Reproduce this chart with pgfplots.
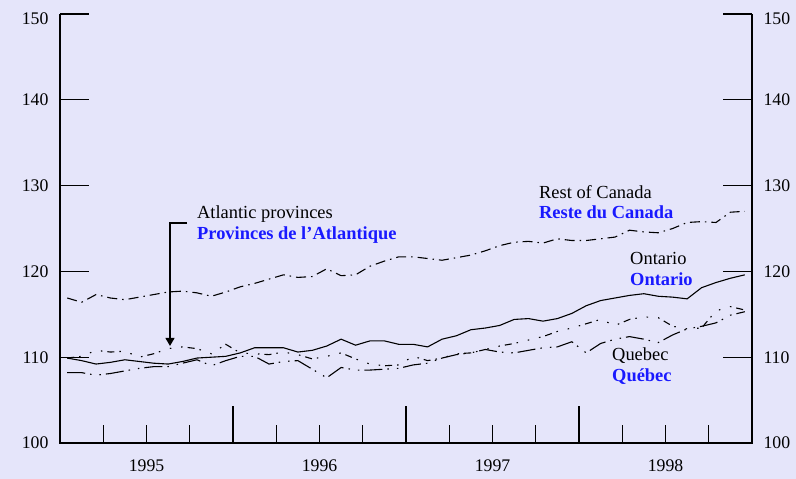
\documentclass[border=0pt]{standalone}
\usepackage{fontspec}
\setmainfont{Liberation Serif}
\usepackage{pgfplots}
\usepackage{pgfplotstable}
\pgfplotsset{compat=1.18}
\usetikzlibrary{arrows.meta}
\definecolor{bg}{RGB}{229,229,250}
\definecolor{lblue}{RGB}{25,25,255}
\pgfplotstableread{
m roc ont atl que
0.5 116.9 109.9 109.9 108.2
1.5 116.4 109.6 110.1 108.2
2.5 117.3 109.2 110.8 107.9
3.5 116.9 109.4 110.6 108.1
4.5 116.7 109.7 110.7 108.4
5.5 117.0 109.5 110.0 108.7
6.5 117.3 109.3 110.4 108.9
7.5 117.6 109.2 111.0 108.9
8.5 117.7 109.5 111.2 109.3
9.5 117.5 109.9 111.0 109.7
10.5 117.1 110.0 110.4 109.0
11.5 117.6 110.1 111.5 109.6
12.5 118.2 110.5 110.5 110.1
13.5 118.6 111.1 110.4 110.1
14.5 119.1 111.1 110.3 109.2
15.5 119.6 111.1 110.6 109.5
16.5 119.3 110.6 110.3 109.6
17.5 119.4 110.8 109.8 108.6
18.5 120.3 111.3 110.1 107.6
19.5 119.5 112.1 110.5 108.8
20.5 119.6 111.4 109.8 108.5
21.5 120.6 111.9 109.2 108.5
22.5 121.2 111.9 109.0 108.6
23.5 121.7 111.5 109.1 108.7
24.5 121.7 111.5 110.1 109.1
25.5 121.5 111.2 109.6 109.3
26.5 121.3 112.1 109.9 109.9
27.5 121.6 112.5 110.4 110.3
28.5 121.9 113.2 110.5 110.5
29.5 122.4 113.4 110.9 110.9
30.5 123.0 113.7 111.3 110.6
31.5 123.4 114.4 111.6 110.5
32.5 123.5 114.5 112.0 110.8
33.5 123.3 114.2 112.4 111.1
34.5 123.8 114.5 113.0 111.2
35.5 123.6 115.1 113.4 111.8
36.5 123.6 116.0 113.9 110.5
37.5 123.8 116.6 114.4 111.6
38.5 124.0 116.9 113.7 112.1
39.5 124.8 117.2 114.4 112.4
40.5 124.6 117.4 114.7 112.1
41.5 124.5 117.1 114.6 111.7
42.5 125.0 117.0 113.6 112.6
43.5 125.7 116.8 113.3 113.3
44.5 125.8 118.1 113.4 113.6
45.5 125.7 118.7 115.4 114.0
46.5 126.9 119.2 115.9 114.9
47.5 127.0 119.6 115.5 115.3
}\data
\newcommand{\tickfont}{\fontsize{17.8}{20}\selectfont}
\newcommand{\annfont}{\fontsize{18.5}{21}\selectfont}
\pgfplotsset{
  base/.style={
    at={(60bp,36bp)}, anchor=south west, scale only axis,
    width=692bp, height=429bp,
    xmin=0, xmax=48, ymin=100, ymax=150,
    axis line style={draw=none},
    /pgf/number format/assume math mode=true,
    tick style={black, line width=1.2bp},
    clip=false,
  }
}
\begin{document}
\begin{tikzpicture}[x=1bp,y=1bp]
\fill[bg] (0,0) rectangle (796,479);
% y ticks, left labels
\begin{axis}[base,
  xtick=\empty,
  ytick={100,110,120,130,140},
  extra y ticks={150},
  extra y tick style={yticklabel style={yshift=-4.5bp}},
  ytick pos=both, yticklabel pos=left,
  major tick length=29bp,
  yticklabel style={xshift=-8bp, font=\tickfont},
]
\end{axis}
% right labels
\begin{axis}[base,
  xtick=\empty,
  ytick={100,110,120,130,140},
  extra y ticks={150},
  extra y tick style={yticklabel style={yshift=-4.5bp}},
  ytick pos=right, yticklabel pos=right,
  major tick length=0bp,
  yticklabel style={xshift=8bp, font=\tickfont},
]
\end{axis}
% main axis
\begin{axis}[base,
  ytick=\empty,
  xtick={0,12,24,36,48},
  xticklabels={1995,1996,1997,1998},
  x tick label as interval,
  minor xtick={3,6,9,15,18,21,27,30,33,39,42,45},
  major tick length=37bp, minor tick length=18bp,
  xtick pos=lower,
  xticklabel style={yshift=-13bp, font=\tickfont},
]
\draw[black, line width=1.3bp] (rel axis cs:0,1) -- (rel axis cs:0,0) -- (rel axis cs:1,0) -- (rel axis cs:1,1);
\addplot[black, line width=1.1bp, dash pattern=on 10bp off 5bp on 1.5bp off 5bp] table[x=m, y=roc] {\data};
\addplot[black, line width=1.1bp] table[x=m, y=ont] {\data};
\addplot[black, line width=1.1bp, dash pattern=on 7bp off 5bp on 1.5bp off 10bp on 1.5bp off 10bp on 1.5bp off 5bp] table[x=m, y=atl] {\data};
\addplot[black, line width=1.1bp, dash pattern=on 18bp off 5bp on 1.5bp off 8bp on 1.5bp off 5bp] table[x=m, y=que] {\data};
% annotations
\node[anchor=base west, inner sep=0pt, font=\annfont] at (axis cs:9.50,126.22) {Atlantic provinces};
\node[anchor=base west, inner sep=0pt, font=\annfont\bfseries, text=lblue] at (axis cs:9.50,123.66) {Provinces de l’Atlantique};
\draw[black, line width=1.2bp, -{Triangle[width=9bp,length=8bp]}] (axis cs:8.81,125.64) -- (axis cs:7.63,125.64) -- (axis cs:7.63,111.31);
\node[anchor=base west, inner sep=0pt, font=\annfont] at (axis cs:33.22,128.55) {Rest of Canada};
\node[anchor=base west, inner sep=0pt, font=\annfont\bfseries, text=lblue] at (axis cs:33.22,126.11) {Reste du Canada};
\node[anchor=base west, inner sep=0pt, font=\annfont] at (axis cs:39.54,120.75) {Ontario};
\node[anchor=base west, inner sep=0pt, font=\annfont\bfseries, text=lblue] at (axis cs:39.54,118.41) {Ontario};
\node[anchor=base west, inner sep=0pt, font=\annfont] at (axis cs:38.29,109.56) {Quebec};
\node[anchor=base west, inner sep=0pt, font=\annfont\bfseries, text=lblue] at (axis cs:38.29,107.14) {Québec};
\end{axis}
\pgfresetboundingbox
\useasboundingbox (0,0) rectangle (796,479);
\end{tikzpicture}
\end{document}
